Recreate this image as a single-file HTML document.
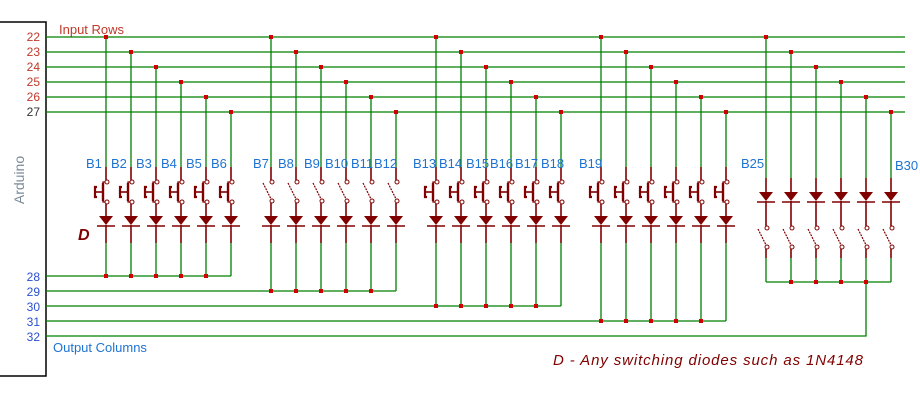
<!DOCTYPE html>
<html><head><meta charset="utf-8"><style>
html,body{margin:0;padding:0;background:#fff;width:920px;height:400px;overflow:hidden}
svg{display:block;font-family:"Liberation Sans",sans-serif}
</style></head><body>
<svg width="920" height="400" viewBox="0 0 920 400" xmlns="http://www.w3.org/2000/svg">
<defs>
<g id="pb" stroke="#800000" fill="none" stroke-width="1.6">
<line x1="0" y1="167" x2="0" y2="180"/>
<circle cx="1" cy="182" r="2" fill="#fff" stroke-width="1"/>
<circle cx="1" cy="202" r="2" fill="#fff" stroke-width="1"/>
<path d="M-1,182 H-3 V202 H-1" stroke-width="1.3"/>
<line x1="-3" y1="183" x2="-3" y2="201" stroke-width="2.4"/>
<path d="M-9,187 H-11 V197 H-9" stroke-width="2.2"/>
<line x1="-10" y1="192" x2="-3" y2="192"/>
<line x1="0" y1="204" x2="0" y2="216"/>
<polygon points="-7,216 7,216 0,225" fill="#800000" stroke="none"/>
<line x1="-9" y1="226" x2="9" y2="226"/>
<line x1="0" y1="225" x2="0" y2="243"/>
</g>
<g id="sw" stroke="#800000" fill="none" stroke-width="1.6">
<line x1="0" y1="167" x2="0" y2="180"/>
<circle cx="1" cy="182" r="2" fill="#fff" stroke-width="1"/>
<circle cx="1" cy="201" r="2" fill="#fff" stroke-width="1"/>
<line x1="-8" y1="183" x2="0" y2="199" stroke-width="1.2" stroke-dasharray="2,1"/>
<line x1="0" y1="203" x2="0" y2="216"/>
<polygon points="-7,216 7,216 0,225" fill="#800000" stroke="none"/>
<line x1="-9" y1="226" x2="9" y2="226"/>
<line x1="0" y1="225" x2="0" y2="243"/>
</g>
<g id="g5" stroke="#800000" fill="none" stroke-width="1.6">
<line x1="0" y1="178" x2="0" y2="192"/>
<polygon points="-7,192 7,192 0,201" fill="#800000" stroke="none"/>
<line x1="-9" y1="202" x2="9" y2="202"/>
<line x1="0" y1="201" x2="0" y2="226"/>
<circle cx="1" cy="228" r="2" fill="#fff" stroke-width="1"/>
<circle cx="1" cy="247" r="2" fill="#fff" stroke-width="1"/>
<line x1="-8" y1="229" x2="0" y2="245" stroke-width="1.2" stroke-dasharray="2,1"/>
<line x1="0" y1="249" x2="0" y2="258"/>
</g>
</defs>

<rect x="-2" y="22" width="48" height="354" fill="#fff" stroke="#000" stroke-width="1.5"/>
<text transform="translate(24,180) rotate(-90)" text-anchor="middle" font-size="14" fill="#7a8a9a">Arduino</text>

<g font-size="12" text-anchor="end">
<text x="40" y="41" fill="#c0392b">22</text>
<text x="40" y="56" fill="#c0392b">23</text>
<text x="40" y="71" fill="#c0392b">24</text>
<text x="40" y="86" fill="#c0392b">25</text>
<text x="40" y="101" fill="#c0392b">26</text>
<text x="40" y="116" fill="#333">27</text>
<text x="40" y="281" fill="#2a4fd0">28</text>
<text x="40" y="296" fill="#2a4fd0">29</text>
<text x="40" y="311" fill="#2a4fd0">30</text>
<text x="40" y="326" fill="#2a4fd0">31</text>
<text x="40" y="341" fill="#2a4fd0">32</text>
</g>
<text x="59" y="34" font-size="13" fill="#c0392b">Input Rows</text>
<text x="53" y="352" font-size="13" fill="#1e73d2">Output Columns</text>

<g stroke="#008000" stroke-width="1.3" fill="none">
<line x1="46" y1="37" x2="905" y2="37"/>
<line x1="46" y1="52" x2="905" y2="52"/>
<line x1="46" y1="67" x2="905" y2="67"/>
<line x1="46" y1="82" x2="905" y2="82"/>
<line x1="46" y1="97" x2="905" y2="97"/>
<line x1="46" y1="112" x2="905" y2="112"/>
<path d="M106,37V167 M131,52V167 M156,67V167 M181,82V167 M206,97V167 M231,112V167"/>
<path d="M106,243V276 M131,243V276 M156,243V276 M181,243V276 M206,243V276 M231,243V276 M46,276H231"/>
<path d="M271,37V167 M296,52V167 M321,67V167 M346,82V167 M371,97V167 M396,112V167"/>
<path d="M271,243V291 M296,243V291 M321,243V291 M346,243V291 M371,243V291 M396,243V291 M46,291H396"/>
<path d="M436,37V167 M461,52V167 M486,67V167 M511,82V167 M536,97V167 M561,112V167"/>
<path d="M436,243V306 M461,243V306 M486,243V306 M511,243V306 M536,243V306 M561,243V306 M46,306H561"/>
<path d="M601,37V167 M626,52V167 M651,67V167 M676,82V167 M701,97V167 M726,112V167"/>
<path d="M601,243V321 M626,243V321 M651,243V321 M676,243V321 M701,243V321 M726,243V321 M46,321H726"/>
<path d="M766,37V178 M791,52V178 M816,67V178 M841,82V178 M866,97V178 M891,112V178"/>
<path d="M766,258V282 M791,258V282 M816,258V282 M841,258V282 M866,258V282 M891,258V282 M766,282H891 M866,282V336H46"/>
</g>

<use href="#pb" x="106"/><use href="#pb" x="131"/><use href="#pb" x="156"/><use href="#pb" x="181"/><use href="#pb" x="206"/><use href="#pb" x="231"/>
<use href="#sw" x="271"/><use href="#sw" x="296"/><use href="#sw" x="321"/><use href="#sw" x="346"/><use href="#sw" x="371"/><use href="#sw" x="396"/>
<use href="#pb" x="436"/><use href="#pb" x="461"/><use href="#pb" x="486"/><use href="#pb" x="511"/><use href="#pb" x="536"/><use href="#pb" x="561"/>
<use href="#pb" x="601"/><use href="#pb" x="626"/><use href="#pb" x="651"/><use href="#pb" x="676"/><use href="#pb" x="701"/><use href="#pb" x="726"/>
<use href="#g5" x="766"/><use href="#g5" x="791"/><use href="#g5" x="816"/><use href="#g5" x="841"/><use href="#g5" x="866"/><use href="#g5" x="891"/>

<g fill="#d00000">
<rect x="104" y="35" width="4" height="4"/><rect x="129" y="50" width="4" height="4"/><rect x="154" y="65" width="4" height="4"/><rect x="179" y="80" width="4" height="4"/><rect x="204" y="95" width="4" height="4"/><rect x="229" y="110" width="4" height="4"/>
<rect x="269" y="35" width="4" height="4"/><rect x="294" y="50" width="4" height="4"/><rect x="319" y="65" width="4" height="4"/><rect x="344" y="80" width="4" height="4"/><rect x="369" y="95" width="4" height="4"/><rect x="394" y="110" width="4" height="4"/>
<rect x="434" y="35" width="4" height="4"/><rect x="459" y="50" width="4" height="4"/><rect x="484" y="65" width="4" height="4"/><rect x="509" y="80" width="4" height="4"/><rect x="534" y="95" width="4" height="4"/><rect x="559" y="110" width="4" height="4"/>
<rect x="599" y="35" width="4" height="4"/><rect x="624" y="50" width="4" height="4"/><rect x="649" y="65" width="4" height="4"/><rect x="674" y="80" width="4" height="4"/><rect x="699" y="95" width="4" height="4"/><rect x="724" y="110" width="4" height="4"/>
<rect x="764" y="35" width="4" height="4"/><rect x="789" y="50" width="4" height="4"/><rect x="814" y="65" width="4" height="4"/><rect x="839" y="80" width="4" height="4"/><rect x="864" y="95" width="4" height="4"/><rect x="889" y="110" width="4" height="4"/>
<rect x="104" y="274" width="4" height="4"/><rect x="129" y="274" width="4" height="4"/><rect x="154" y="274" width="4" height="4"/><rect x="179" y="274" width="4" height="4"/><rect x="204" y="274" width="4" height="4"/>
<rect x="269" y="289" width="4" height="4"/><rect x="294" y="289" width="4" height="4"/><rect x="319" y="289" width="4" height="4"/><rect x="344" y="289" width="4" height="4"/><rect x="369" y="289" width="4" height="4"/>
<rect x="434" y="304" width="4" height="4"/><rect x="459" y="304" width="4" height="4"/><rect x="484" y="304" width="4" height="4"/><rect x="509" y="304" width="4" height="4"/><rect x="534" y="304" width="4" height="4"/>
<rect x="599" y="319" width="4" height="4"/><rect x="624" y="319" width="4" height="4"/><rect x="649" y="319" width="4" height="4"/><rect x="674" y="319" width="4" height="4"/><rect x="699" y="319" width="4" height="4"/>
<rect x="789" y="280" width="4" height="4"/><rect x="814" y="280" width="4" height="4"/><rect x="839" y="280" width="4" height="4"/><rect x="864" y="280" width="4" height="4"/>
</g>

<g font-size="13" fill="#1e73d2">
<text x="86" y="168">B1</text><text x="111" y="168">B2</text><text x="136" y="168">B3</text><text x="161" y="168">B4</text><text x="186" y="168">B5</text><text x="211" y="168">B6</text>
<text x="253" y="168">B7</text><text x="278" y="168">B8</text><text x="304" y="168">B9</text><text x="325" y="168">B10</text><text x="351" y="168">B11</text><text x="374" y="168">B12</text>
<text x="413" y="168">B13</text><text x="439" y="168">B14</text><text x="466" y="168">B15</text><text x="490" y="168">B16</text><text x="515" y="168">B17</text><text x="541" y="168">B18</text>
<text x="579" y="168">B19</text>
<text x="741" y="168">B25</text><text x="895" y="170">B30</text>
</g>
<text x="78" y="240" font-size="16" font-style="italic" font-weight="bold" fill="#800000">D</text>
<text x="553" y="365" font-size="15" font-style="italic" fill="#800000" textLength="310">D -  Any switching diodes such as 1N4148</text>
</svg>
</body></html>
